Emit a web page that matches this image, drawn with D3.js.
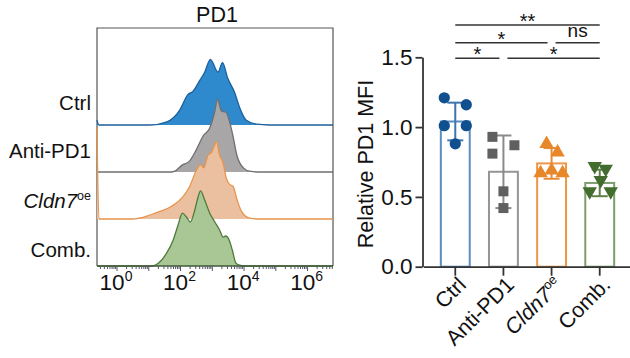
<!DOCTYPE html>
<html>
<head>
<meta charset="utf-8">
<script src="https://cdn.jsdelivr.net/npm/d3@7"></script>
<style>
  body { margin: 0; background: #fff; }
  svg { display: block; font-family: 'Liberation Sans', Arial, sans-serif; }
</style>
</head>
<body>
<svg id="chart" width="630" height="358"></svg>
<script>
// ---- histogram data: [log10 intensity, % of mode] ----
const histNames = ['Ctrl', 'Anti-PD1', 'Cldn7', 'Comb.']
const ctrlHist = [[-0.63, 6], [-0.57, 0], [1.04, 0], [1.57, 4], [1.98, 19], [2.23, 38], [2.39, 42], [2.61, 56], [2.76, 66], [2.94, 82], [3.18, 66], [3.32, 78], [3.49, 58], [3.70, 41], [3.86, 22], [4.07, 6], [4.39, 1], [4.8, 0], [6.8, 0]]
const antiHist = [[-0.63, 0], [1.7, 0], [1.82, 1], [2.03, 8], [2.29, 14], [2.50, 28], [2.71, 45], [2.92, 55], [3.08, 76], [3.16, 91], [3.29, 76], [3.42, 75], [3.55, 62], [3.65, 45], [3.78, 20], [3.97, 5.5], [4.18, 1], [4.5, 0], [6.8, 0]]
const cldnHist = [[-0.63, 114], [-0.57, 0], [0.50, 0], [1.04, 5], [1.35, 9.5], [1.72, 16], [2.08, 28], [2.29, 41], [2.50, 61], [2.63, 68], [2.73, 64], [2.87, 80], [2.97, 83], [3.08, 93], [3.13, 97], [3.23, 80], [3.34, 70], [3.44, 51], [3.55, 43], [3.65, 41], [3.78, 24], [3.92, 9.5], [4.18, 1], [4.5, 0], [6.8, 0]]
const combHist = [[-0.63, 0], [1.1, 0], [1.30, 3.4], [1.56, 16], [1.77, 32.5], [1.92, 51], [2.06, 66], [2.19, 61], [2.31, 55], [2.45, 70], [2.55, 86], [2.63, 94], [2.76, 82.5], [2.92, 66], [3.08, 55], [3.23, 45], [3.34, 36], [3.42, 37.5], [3.53, 32.5], [3.63, 20], [3.74, 4], [3.86, 1], [4.0, 0], [6.8, 0]]
const histTickLabels = [0, 2, 4, 6]

// ---- bar chart data ----
const groups = ['Ctrl', 'Anti-PD1', 'Cldn7', 'Comb.']
const means = [1.04, 0.68, 0.74, 0.60]
const sds = [0.135, 0.26, 0.11, 0.095]
const ctrlVals = [1.21, 1.16, 1.01, 1.01, 0.88]
const antiVals = [0.93, 0.87, 0.81, 0.54, 0.42]
const cldnVals = [0.88, 0.82, 0.67, 0.69, 0.67]
const combVals = [0.72, 0.70, 0.62, 0.54, 0.54]
const yTicks = [0, 0.5, 1.0, 1.5]
// [from, to, label, level]
const comparisons = [
    ['Ctrl', 'Comb.', '**', 0],
    ['Ctrl', 'Cldn7', '*', 1],
    ['Cldn7', 'Comb.', 'ns', 1],
    ['Ctrl', 'Anti-PD1', '*', 2],
    ['Anti-PD1', 'Comb.', '*', 2],
]

const svg = d3.select('#chart')
const ink = '#333'

// ================= histogram panel =================
const hx = d3.scaleLog().domain([Math.pow(10, -0.63), Math.pow(10, 6.8)]).range([97, 333])
const hh = d3.scaleLinear().domain([0, 100]).range([0, 80])
const baselines = [125, 172, 219, 266]
const fills = ['#2e8acc', '#a8a6a6', '#ebc0a0', '#a9c794']
const strokes = ['#1b5f9c', '#6f6f6f', '#e8944a', '#4f7a3c']
const hists = [ctrlHist, antiHist, cldnHist, combHist]

// box
svg.append('path')
    .attr('d', 'M97,266V28H333V266')
    .attr('fill', 'none')
    .attr('stroke', '#555')
    .attr('stroke-width', 1.2)

hists.forEach(function (data, i) {
    const b = baselines[i]
    const area = d3.area()
        .x(d => hx(Math.pow(10, d[0])))
        .y0(b)
        .y1(d => b - hh(d[1]))
        .curve(d3.curveMonotoneX)
    const line = d3.line()
        .x(d => hx(Math.pow(10, d[0])))
        .y(d => b - hh(d[1]))
        .curve(d3.curveMonotoneX)
    svg.append('path').attr('d', area(data)).attr('fill', fills[i])
    svg.append('path').attr('d', line(data)).attr('fill', 'none')
        .attr('stroke', strokes[i]).attr('stroke-width', 1.3)
})

// row labels
const rowLabelY = [110, 158, 208, 257]
histNames.forEach(function (n, i) {
    const t = svg.append('text')
        .attr('x', 91).attr('y', rowLabelY[i])
        .attr('text-anchor', 'end')
        .attr('font-size', 20.5)
        .attr('fill', '#111')
    if (n === 'Cldn7') {
        t.append('tspan').attr('font-style', 'italic').text('Cldn7')
        t.append('tspan').attr('font-size', 12.5).attr('dy', -8).text('oe')
    } else {
        t.text(n)
    }
})

// title
svg.append('text').attr('x', 217).attr('y', 22).attr('text-anchor', 'middle')
    .attr('font-size', 21.5).attr('fill', '#111').text('PD1')

// x axis (log)
const minorTicks = []
for (let e = -1; e <= 6; e++) {
    for (let m = 1; m <= 9; m++) {
        const v = m * Math.pow(10, e)
        if (v >= hx.domain()[0] && v <= hx.domain()[1]) minorTicks.push(v)
    }
}
const hAxis = svg.append('g').attr('transform', 'translate(0,266)')
hAxis.append('line').attr('x1', 97).attr('x2', 333).attr('stroke', '#3f5a36').attr('stroke-width', 1.5)
hAxis.selectAll('.mt')
    .data(minorTicks)
    .enter()
    .append('line')
    .attr('x1', d => hx(d)).attr('x2', d => hx(d))
    .attr('y1', 0)
    .attr('y2', d => (Math.abs(Math.log10(d) - Math.round(Math.log10(d))) < 1e-9 ? 5 : 3))
    .attr('stroke', '#556')
    .attr('stroke-width', 1)
const hLab = hAxis.selectAll('.lab')
    .data(histTickLabels)
    .enter()
    .append('text')
    .attr('x', d => hx(Math.pow(10, d)) - 1)
    .attr('y', 24)
    .attr('text-anchor', 'middle')
    .attr('font-size', 22.5)
    .attr('fill', '#111')
hLab.append('tspan').text('10')
hLab.append('tspan').attr('font-size', 14).attr('dy', -9).text(d => d)

// ================= bar panel =================
const x = d3.scaleBand().domain(groups).range([423.5, 631.5]).paddingInner(0.4).paddingOuter(0.36)
const y = d3.scaleLinear().domain([0, 1.5]).range([266.7, 57.3])
const barStroke = ['#5a8dc0', '#959595', '#ee9748', '#7d9e6c']
const errStroke = ['#3d74ad', '#8a8a8a', '#e98a35', '#5d8049']
const pointFill = ['#11508f', '#606060', '#e8862a', '#436d2e']
const symbols = [d3.symbolCircle, d3.symbolSquare, d3.symbolTriangle, d3.symbolTriangle]
const symSize = [100, 100, 90, 90]
const allVals = [ctrlVals, antiVals, cldnVals, combVals]
// horizontal scatter offsets (px) used to separate overlapping points
const jitter = [[-11, 11, -11, 11, 0], [-11, 11, -11, 0, 0], [-5, 6, -11, 0, 11], [-5, 6, 1, -10, 11]]

// y axis
const yAxis = svg.append('g').attr('transform', 'translate(422.5,0)')
    .call(d3.axisLeft(y).tickValues(yTicks).tickFormat(d3.format('.1f')).tickSize(7).tickSizeOuter(0))
yAxis.select('.domain').attr('stroke', ink).attr('stroke-width', 1.8)
yAxis.selectAll('.tick line').attr('stroke', ink).attr('stroke-width', 1.8)
yAxis.selectAll('.tick text').attr('font-size', 22.5).attr('fill', '#111').attr('x', -10)
    .attr('font-family', 'Liberation Sans, Arial, sans-serif')

svg.append('text')
    .attr('transform', 'translate(373,164) rotate(-90)')
    .attr('text-anchor', 'middle')
    .attr('font-size', 21.5)
    .attr('fill', '#111')
    .text('Relative PD1 MFI')

// bars
svg.selectAll('.bar')
    .data(groups)
    .enter()
    .append('rect')
    .attr('x', d => x(d))
    .attr('y', (d, i) => y(means[i]))
    .attr('width', x.bandwidth())
    .attr('height', (d, i) => y(0) - y(means[i]))
    .attr('fill', '#fff')
    .attr('stroke', (d, i) => barStroke[i])
    .attr('stroke-width', 2)

// x axis
const xAxis = svg.append('g').attr('transform', 'translate(0,266.7)')
    .call(d3.axisBottom(x).tickSize(9).tickSizeOuter(0).tickFormat(''))
xAxis.select('.domain').attr('stroke', ink).attr('stroke-width', 1.8)
xAxis.selectAll('.tick line').attr('stroke', ink).attr('stroke-width', 1.8)

groups.forEach(function (g, i) {
    const cx = x(g) + x.bandwidth() / 2
    const t = svg.append('text')
        .attr('transform', 'translate(' + (cx + 12) + ',286) rotate(-45)')
        .attr('text-anchor', 'end')
        .attr('font-size', 21.5)
        .attr('fill', '#111')
    if (g === 'Cldn7') {
        t.append('tspan').attr('font-style', 'italic').text('Cldn7')
        t.append('tspan').attr('font-size', 13).attr('dy', -8).text('oe')
    } else {
        t.text(g)
    }
})

// error bars
groups.forEach(function (g, i) {
    const cx = x(g) + x.bandwidth() / 2
    const eb = svg.append('g').attr('stroke', errStroke[i]).attr('stroke-width', 2)
    const top = y(means[i] + sds[i]), bot = y(means[i] - sds[i])
    eb.append('line').attr('x1', cx).attr('x2', cx).attr('y1', top).attr('y2', bot)
    eb.append('line').attr('x1', cx - 8).attr('x2', cx + 8).attr('y1', top).attr('y2', top)
    eb.append('line').attr('x1', cx - 8).attr('x2', cx + 8).attr('y1', bot).attr('y2', bot)
})

// points
groups.forEach(function (g, i) {
    const cx = x(g) + x.bandwidth() / 2
    const sym = d3.symbol().type(symbols[i]).size(symSize[i])
    svg.selectAll('.pt' + i)
        .data(allVals[i])
        .enter()
        .append('path')
        .attr('d', sym)
        .attr('transform', (d, j) => 'translate(' + (cx + jitter[i][j]) + ',' + y(d) + ')' + (i === 3 ? ' rotate(180)' : ''))
        .attr('fill', pointFill[i])
})

// significance
const levelY = [25, 42.7, 58.3]
const center = g => x(g) + x.bandwidth() / 2
comparisons.forEach(function (c) {
    const a = groups.indexOf(c[0]), b = groups.indexOf(c[1])
    const x1 = center(c[0]) + (a === 0 ? 0 : 4)
    const x2 = center(c[1]) - (b === groups.length - 1 ? 0 : 4)
    const ly = levelY[c[3]]
    svg.append('line').attr('x1', x1).attr('x2', x2).attr('y1', ly).attr('y2', ly)
        .attr('stroke', ink).attr('stroke-width', 1.5)
    svg.append('text')
        .attr('x', (x1 + x2) / 2)
        .attr('y', c[2] === 'ns' ? ly - 5.5 : ly + 3)
        .attr('text-anchor', 'middle')
        .attr('font-size', c[2] === 'ns' ? 19 : 20)
        .attr('fill', '#111')
        .text(c[2])
})
</script>
</body>
</html>
